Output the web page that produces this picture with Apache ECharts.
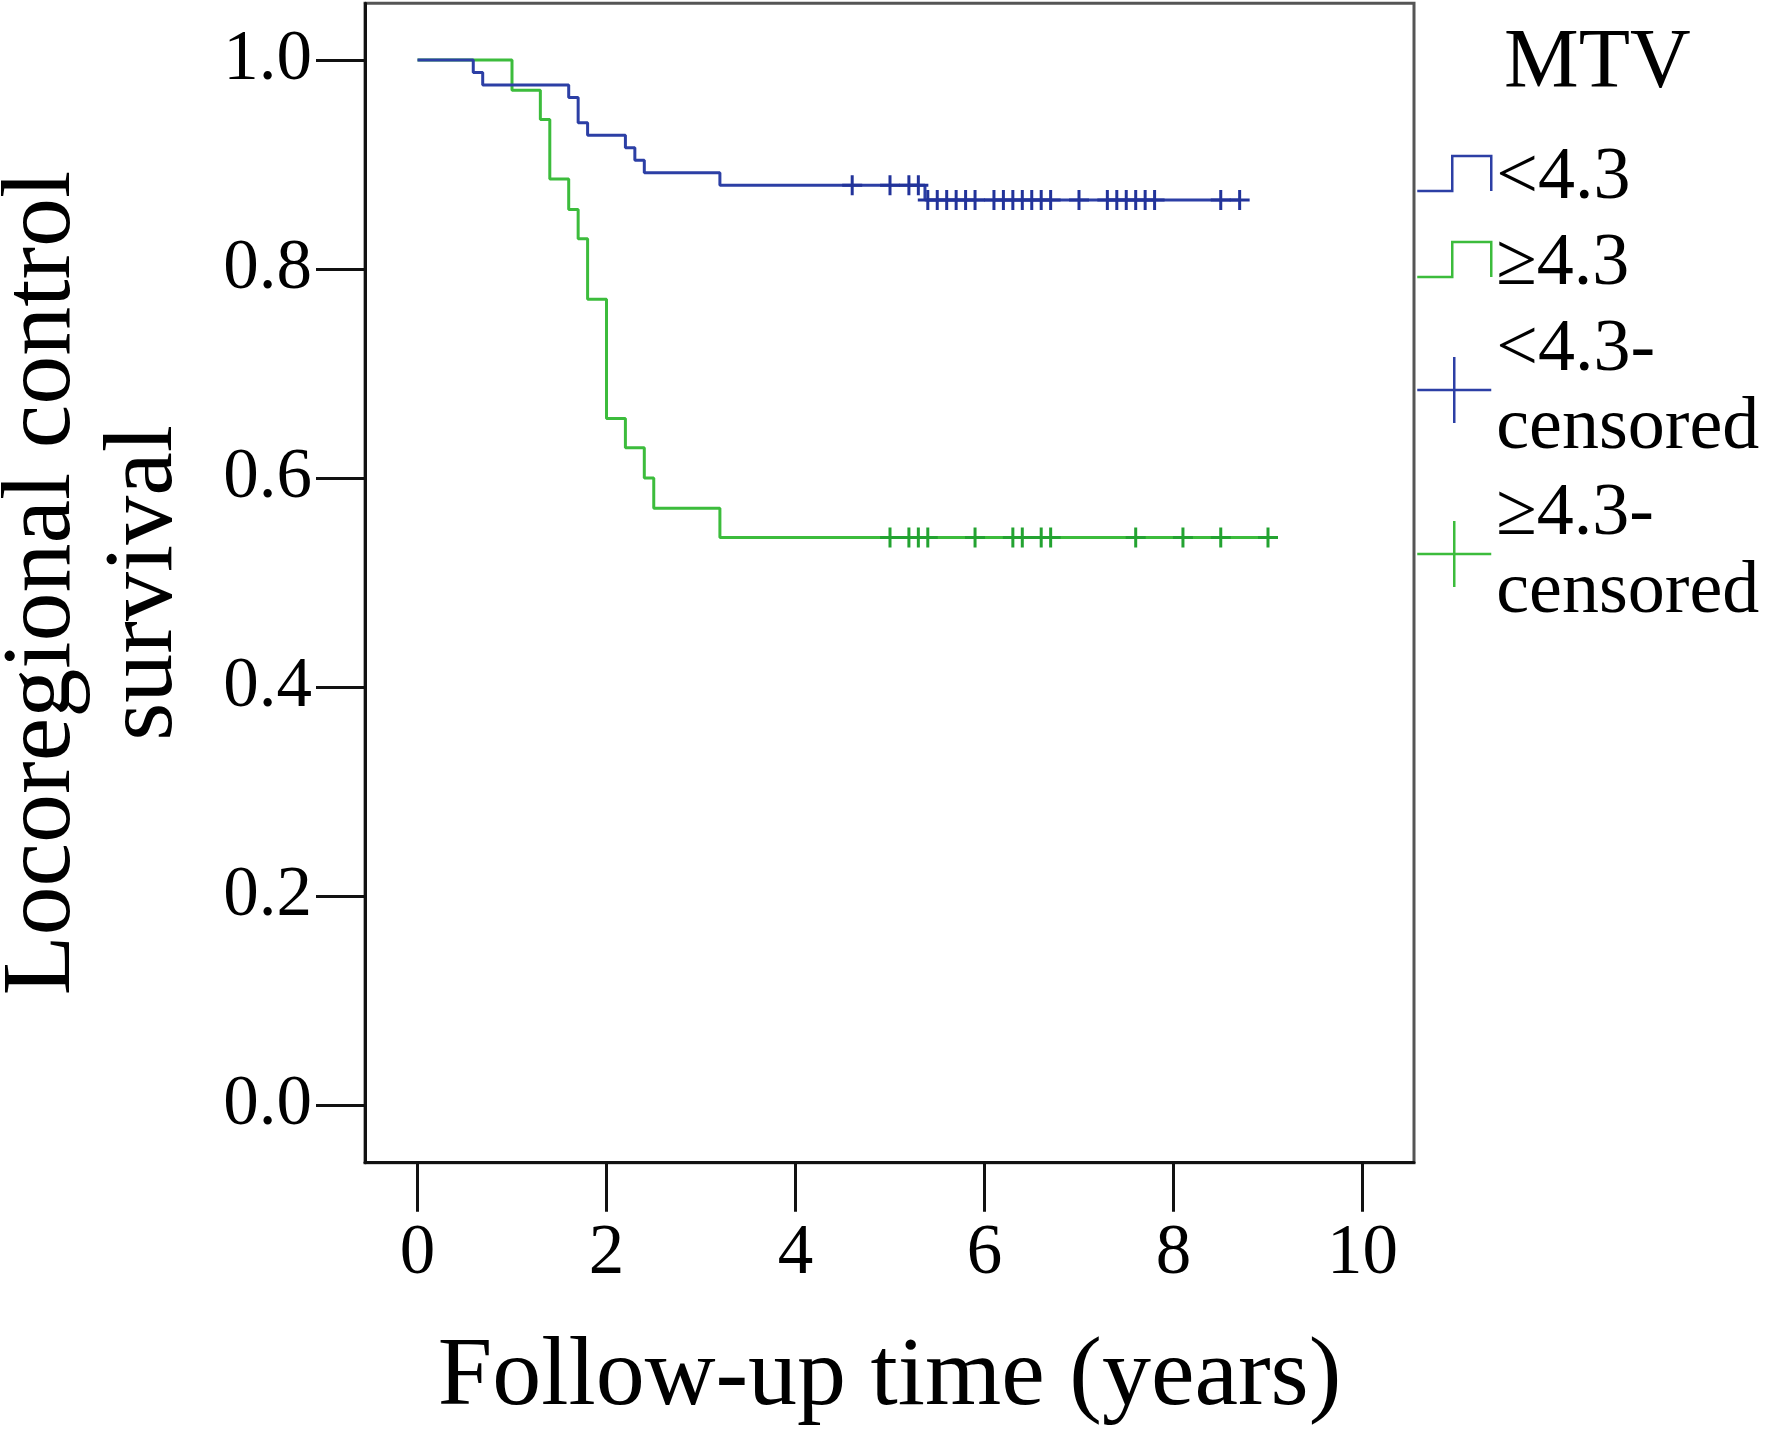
<!DOCTYPE html>
<html>
<head>
<meta charset="utf-8">
<script src="https://cdn.jsdelivr.net/npm/echarts@6/dist/echarts.min.js"></script>
<style>
  html, body { margin: 0; padding: 0; background: #fff; }
  #chart { width: 1772px; height: 1435px; }
</style>
</head>
<body>
<div id="chart"></div>
<script>
// Kaplan-Meier steps
const lowTimes = [0, 0.59, 0.69, 1.6, 1.7, 1.8, 2.2, 2.3, 2.4, 3.2, 5.37, 8.7];
const lowSurv = [1, 0.988, 0.976, 0.964, 0.94, 0.928, 0.916, 0.904, 0.892, 0.88, 0.866, 0.866];
const highTimes = [0, 1.0, 1.3, 1.4, 1.6, 1.7, 1.8, 2.0, 2.2, 2.4, 2.5, 3.2, 9.0];
const highSurv = [1, 0.971, 0.943, 0.886, 0.857, 0.829, 0.771, 0.657, 0.629, 0.6, 0.571, 0.543, 0.543];

// censored times
const lowCensored = [4.6, 5.0, 5.2, 5.3, 5.4, 5.5, 5.6, 5.7, 5.8, 5.9, 6.1, 6.2, 6.3, 6.4, 6.5, 6.6, 6.7, 7.0, 7.3, 7.4, 7.5, 7.6, 7.7, 7.8, 8.5, 8.7];
const highCensored = [5.0, 5.2, 5.3, 5.4, 5.9, 6.3, 6.4, 6.6, 6.7, 7.6, 8.1, 8.5, 9.0];

const xTicks = [0, 2, 4, 6, 8, 10];
const yTicks = [0, 0.2, 0.4, 0.6, 0.8, 1.0];

const seriesNames = ['<4.3', '≥4.3', '<4.3-\ncensored', '≥4.3-\ncensored'];

const blue = '#2c3fa5';
const green = '#3cbc3c';
const font = 'Liberation Serif';

// survival value of a step curve at time t
function survAt(times, surv, t) {
  let s = surv[0];
  for (let i = 0; i < times.length; i++) {
    if (times[i] <= t) s = surv[i];
  }
  return s;
}

function pairs(xs, ys) {
  return xs.map((x, i) => [x, ys[i]]);
}

const plusPath = 'path://M0,10 L20,10 M10,0 L10,20';
const stepIcon = 'path://M0,0 M0,45 L35,45 L35,10 L74,10 L74,45 M74,66';
const plusIcon = 'path://M0,33 L74,33 M37,0 L37,66';

let myChart = echarts.init(document.getElementById('chart'));
myChart.setOption({
  animation: false,
  backgroundColor: '#fff',
  title: {
    text: 'MTV',
    left: 1504,
    top: 23,
    padding: 0,
    textStyle: { fontFamily: font, fontSize: 84, lineHeight: 84, fontWeight: 'normal', color: '#000' }
  },
  legend: {
    orient: 'vertical',
    left: 1416,
    top: 140,
    padding: 0,
    itemGap: 8,
    itemWidth: 74,
    itemHeight: 66,
    selectedMode: false,
    textStyle: { fontFamily: font, fontSize: 74, lineHeight: 78, color: '#000' },
    data: [
      { name: seriesNames[0], icon: stepIcon, itemStyle: { color: 'rgba(0,0,0,0)', borderColor: blue, borderWidth: 2.5 } },
      { name: seriesNames[1], icon: stepIcon, itemStyle: { color: 'rgba(0,0,0,0)', borderColor: green, borderWidth: 2.5 } },
      { name: seriesNames[2], icon: plusIcon, itemStyle: { color: 'rgba(0,0,0,0)', borderColor: blue, borderWidth: 2.5 } },
      { name: seriesNames[3], icon: plusIcon, itemStyle: { color: 'rgba(0,0,0,0)', borderColor: green, borderWidth: 2.5 } }
    ]
  },
  grid: {
    left: 365,
    top: 3.3,
    width: 1049,
    height: 1159.4,
    show: true,
    borderColor: '#555',
    borderWidth: 3,
    containLabel: false,
    outerBoundsMode: 'none'
  },
  xAxis: {
    type: 'value',
    min: -0.5556,
    max: 10.545,
    name: 'Follow-up time (years)',
    nameLocation: 'middle',
    nameGap: 167,
    nameTextStyle: { fontFamily: font, fontSize: 98, lineHeight: 98, color: '#000' },
    axisLine: { show: true, onZero: false, lineStyle: { color: '#111', width: 3 } },
    axisTick: { show: true, inside: false, length: 49, customValues: xTicks, lineStyle: { color: '#111', width: 3 } },
    axisLabel: { customValues: xTicks, margin: 56, fontFamily: font, fontSize: 71, lineHeight: 71, color: '#000' },
    splitLine: { show: false }
  },
  yAxis: {
    type: 'value',
    min: -0.0552,
    max: 1.0542,
    name: 'Locoregional control\nsurvival',
    nameLocation: 'middle',
    nameGap: 169,
    nameTextStyle: { fontFamily: font, fontSize: 98, lineHeight: 102, color: '#000' },
    axisLine: { show: true, onZero: false, lineStyle: { color: '#111', width: 3 } },
    axisTick: { show: true, inside: false, length: 49, customValues: yTicks, lineStyle: { color: '#111', width: 3 } },
    axisLabel: {
      customValues: yTicks,
      margin: 53,
      fontFamily: font,
      fontSize: 71,
      color: '#000',
      formatter: (v) => v.toFixed(1)
    },
    splitLine: { show: false }
  },
  series: [
    {
      name: seriesNames[0],
      type: 'line',
      step: 'end',
      showSymbol: false,
      lineStyle: { color: blue, width: 3 },
      itemStyle: { color: blue },
      data: pairs(lowTimes, lowSurv),
      z: 3
    },
    {
      name: seriesNames[1],
      type: 'line',
      step: 'end',
      showSymbol: false,
      lineStyle: { color: green, width: 3 },
      itemStyle: { color: green },
      data: pairs(highTimes, highSurv),
      z: 2
    },
    {
      name: seriesNames[2],
      type: 'scatter',
      symbol: plusPath,
      symbolSize: 20,
      itemStyle: { color: 'rgba(0,0,0,0)', borderColor: '#22339a', borderWidth: 3, opacity: 1 },
      data: lowCensored.map((t) => [t, survAt(lowTimes, lowSurv, t)]),
      z: 4
    },
    {
      name: seriesNames[3],
      type: 'scatter',
      symbol: plusPath,
      symbolSize: 20,
      itemStyle: { color: 'rgba(0,0,0,0)', borderColor: '#23a331', borderWidth: 3, opacity: 1 },
      data: highCensored.map((t) => [t, survAt(highTimes, highSurv, t)]),
      z: 4
    }
  ]
});
window.onresize = function () {
  myChart.resize();
};
</script>
</body>
</html>
